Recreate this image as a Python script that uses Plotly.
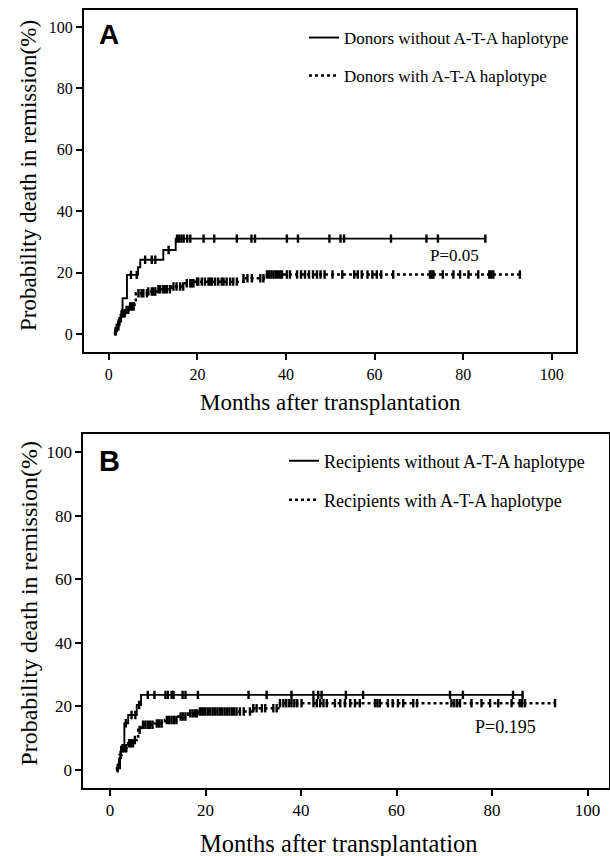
import bisect
import plotly.graph_objects as go

W, H = 610, 856

# ---------------- Panel A data (Donors) ----------------
a_wo_t = [1.3, 1.5, 2.2, 2.8, 3.1, 4.1, 6.6, 7.1, 12.3, 15.1, 85.0]
a_wo_v = [0.0, 1.4, 4.6, 7.4, 11.7, 19.3, 21.8, 24.2, 27.4, 31.1, 31.1]
a_wo_c = [5.0, 6.3, 8.2, 9.7, 10.5, 13.5, 15.4, 15.9, 16.4, 16.9, 17.7, 18.4,
          21.4, 23.8, 28.9, 32.2, 33.0, 40.2, 42.7, 49.8, 52.3, 53.1, 63.7,
          71.7, 74.3, 85.0]

a_w_t = [1.3, 1.4, 1.7, 2.0, 2.3, 2.6, 2.9, 3.7, 4.8, 5.8, 6.1, 8.9, 11.2,
         14.2, 17.2, 19.5, 30.4, 35.0, 35.7, 92.8]
a_w_v = [0.0, 0.9, 2.0, 3.0, 4.2, 5.2, 6.8, 7.9, 9.0, 10.1, 13.3, 13.9, 14.6,
         15.5, 16.6, 17.1, 18.2, 18.8, 19.4, 19.4]
a_w_c = [1.5, 1.8, 2.1, 2.4, 2.7, 3.0, 3.3, 3.6, 4.0, 4.4, 4.8, 5.2, 5.6, 6.7,
         7.4, 7.8, 8.6, 8.9, 9.7, 10.1, 10.5, 11.2, 11.6, 12.3, 12.7, 13.1,
         13.8, 14.6, 15.3, 16.1, 16.8, 17.6, 18.4, 18.7, 19.1, 19.9, 20.2,
         21.0, 21.7, 22.5, 22.9, 23.3, 24.0, 24.7, 25.5, 25.9, 26.6, 27.4,
         28.1, 28.9, 30.4, 31.3, 32.3, 34.2, 34.9, 35.7, 36.2, 36.7, 37.2,
         37.7, 38.2, 38.7, 39.1, 40.2, 40.9, 42.5, 43.4, 44.3, 45.2, 46.1,
         47.0, 47.8, 48.7, 50.5, 52.7, 55.4, 56.2, 57.1, 58.4, 59.5, 60.5,
         61.5, 64.2, 72.5, 72.9, 73.3, 75.4, 77.8, 79.3, 81.2, 83.4, 85.9,
         86.3, 86.8, 92.8]

# ---------------- Panel B data (Recipients) ----------------
b_wo_t = [1.3, 1.4, 2.1, 2.3, 3.0, 3.8, 5.6, 6.5, 86.5]
b_wo_v = [0.0, 0.5, 3.7, 7.3, 14.7, 17.3, 20.4, 23.6, 23.6]
b_wo_c = [3.3, 4.5, 5.3, 6.1, 7.9, 9.3, 11.6, 12.1, 12.9, 13.3, 15.2, 15.8,
          18.4, 29.0, 32.8, 38.0, 42.6, 43.6, 44.3, 49.4, 53.0, 71.2, 73.9,
          84.4, 86.4]

b_w_t = [1.3, 1.5, 1.8, 2.0, 2.4, 3.8, 4.9, 5.6, 5.9, 6.6, 9.4, 11.5, 14.3,
         16.4, 18.5, 29.7, 35.6, 93.2]
b_w_v = [0.0, 0.5, 2.6, 4.7, 6.8, 8.4, 9.4, 10.5, 12.6, 14.2, 14.6, 15.7,
         16.8, 17.8, 18.4, 19.4, 21.0, 21.0]
b_w_c = [1.6, 1.9, 2.2, 2.6, 3.0, 3.4, 4.0, 4.4, 4.8, 5.2, 6.2, 6.9, 7.4, 7.9,
         8.4, 8.9, 9.8, 10.3, 10.8, 11.9, 12.4, 12.9, 13.4, 13.9, 14.8, 15.3,
         15.8, 16.8, 17.3, 17.8, 18.2, 18.8, 19.2, 19.6, 20.0, 20.5, 21.0,
         21.5, 22.0, 22.5, 23.0, 23.5, 24.0, 24.5, 25.0, 25.5, 26.0, 26.5,
         27.2, 28.0, 29.3, 30.0, 30.7, 31.8, 32.5, 34.2, 34.9, 35.6, 36.3,
         36.9, 37.5, 38.0, 38.6, 39.2, 40.1, 42.6, 43.3, 44.0, 44.7, 45.4,
         47.1, 48.2, 49.2, 50.3, 51.3, 52.3, 55.5, 56.0, 56.5, 58.2, 59.2,
         60.3, 61.4, 63.5, 64.3, 71.5, 72.1, 72.7, 73.3, 75.7, 77.8, 79.6,
         81.3, 84.1, 85.8, 86.3, 86.9, 93.2]

tick_vals = [0, 20, 40, 60, 80, 100]
tick_text = ["0", "20", "40", "60", "80", "100"]

names_a = ["Donors without A-T-A haplotype", "Donors with A-T-A haplotype"]
names_b = ["Recipients without A-T-A haplotype", "Recipients with A-T-A haplotype"]
p_text = ["P=0.05", "P=0.195"]
panel_labels = ["A", "B"]

SERIF = "Liberation Serif, Times New Roman, serif"
SANS = "Liberation Sans, Arial, sans-serif"


def step_at(times, vals, t):
    i = bisect.bisect_right(times, t) - 1
    return vals[max(i, 0)]


fig = go.Figure()


def add_panel(xa, ya, curves, legends):
    for (t, v, c, name, dash, lw), lg in zip(curves, legends):
        fig.add_trace(go.Scatter(
            x=t, y=v, mode="lines", line=dict(shape="hv", color="black",
                                              width=lw, dash=dash),
            name=name, xaxis=xa, yaxis=ya, legend=lg, showlegend=True,
            hoverinfo="skip"))
        fig.add_trace(go.Scatter(
            x=c, y=[step_at(t, v, ci) for ci in c], mode="markers",
            marker=dict(symbol="line-ns-open", size=6, color="black",
                        line=dict(width=2.4, color="black")),
            xaxis=xa, yaxis=ya, showlegend=False, hoverinfo="skip"))


add_panel("x", "y",
          [(a_wo_t, a_wo_v, a_wo_c, names_a[0], "solid", 1.9),
           (a_w_t, a_w_v, a_w_c, names_a[1], "dot", 2.5)],
          ["legend", "legend2"])
add_panel("x2", "y2",
          [(b_wo_t, b_wo_v, b_wo_c, names_b[0], "solid", 1.9),
           (b_w_t, b_w_v, b_w_c, names_b[1], "dot", 2.5)],
          ["legend3", "legend4"])


def axis(domain, rng, anchor, fsize):
    return dict(domain=domain, range=rng, anchor=anchor, showgrid=False,
                zeroline=False, showline=True, linecolor="black", linewidth=2,
                mirror=True, ticks="outside", ticklen=6, tickwidth=1.5,
                tickcolor="black", tickvals=tick_vals, ticktext=tick_text,
                tickfont=dict(family=SERIF, size=fsize, color="black"))


def leg(xpx, ypx, fsize):
    return dict(x=xpx / W, y=1 - ypx / H, xanchor="left", yanchor="middle",
                bgcolor="rgba(0,0,0,0)", borderwidth=0,
                font=dict(family=SERIF, size=fsize, color="black"))


xa1 = axis([84 / W, 575.7 / W], [-5.6, 105.4], "y", 16)
ya1 = axis([1 - 351.7 / H, 1 - 10 / H], [-5.7, 105.5], "x", 16)
xa2 = axis([83.3 / W, 609 / W], [-5.6, 104.5], "y2", 17)
ya2 = axis([1 - 787.7 / H, 1 - 434 / H], [-5.6, 105.7], "x2", 17)
xa1["ticklabelstandoff"] = 1
xa2["ticklabelstandoff"] = 0


def ann(text, xpx, ypx, size, family=SERIF, angle=0, xanchor="center"):
    return dict(text=text, x=xpx / W, y=1 - ypx / H, xref="paper",
                yref="paper", xanchor=xanchor, yanchor="middle",
                showarrow=False, textangle=angle,
                font=dict(family=family, size=size, color="black"))


annotations = [
    ann("Months after transplantation", 330, 403, 23),
    ann("Months after transplantation", 338.5, 843, 24.5),
    ann("Probability death in remission(%)", 28, 176, 23, angle=-90),
    ann("Probability death in remission(%)", 29, 603.7, 24, angle=-90),
    ann("<b>%s</b>" % panel_labels[0], 97, 35, 28, family=SANS, xanchor="left"),
    ann("<b>%s</b>" % panel_labels[1], 97, 461, 29, family=SANS, xanchor="left"),
    dict(text=p_text[0], x=78, y=25.5, xref="x", yref="y", showarrow=False,
         font=dict(family=SERIF, size=17, color="black")),
    dict(text=p_text[1], x=82.9, y=13.5, xref="x2", yref="y2", showarrow=False,
         font=dict(family=SERIF, size=18, color="black")),
]

fig.update_layout(
    width=W, height=H, margin=dict(l=0, r=0, t=0, b=0),
    paper_bgcolor="white", plot_bgcolor="white",
    xaxis=xa1, yaxis=ya1, xaxis2=xa2, yaxis2=ya2,
    legend=leg(304, 38, 17), legend2=leg(304, 76, 17),
    legend3=leg(284, 461, 18), legend4=leg(284, 500, 18),
    annotations=annotations, showlegend=True,
)

fig.write_html(
    "out.html",
    config={"displayModeBar": False},
    post_script="document.body.style.margin='0px';"
                "document.body.style.overflow='hidden';",
)
